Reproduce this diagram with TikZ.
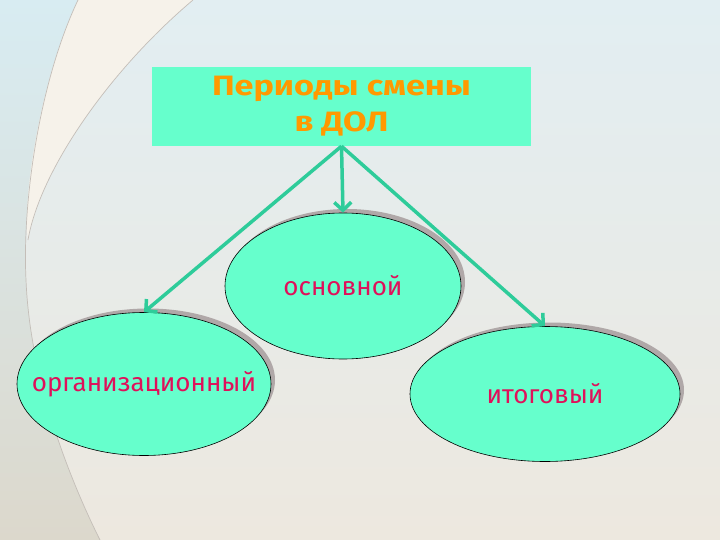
\documentclass[tikz,border=0pt]{standalone}
\usepackage{fontspec}
\setmainfont{Fira Sans}
\newfontfamily\titlefont[FakeStretch=1.22]{Fira Sans}
\usetikzlibrary{shapes.geometric,arrows.meta,shadows}
\definecolor{aqua}{HTML}{66FFCC}
\definecolor{arrowc}{HTML}{2ECC9A}
\definecolor{labc}{HTML}{E0105A}
\definecolor{titc}{HTML}{FF9900}
\definecolor{shad}{HTML}{B0A8A8}
\definecolor{bgtop}{HTML}{E2EEF2}
\definecolor{bgbot}{HTML}{EDE8DF}
\definecolor{bandtop}{HTML}{D8ECF2}
\definecolor{bandmid}{HTML}{A6D0E2}
\definecolor{bandbot}{HTML}{DCD8CC}
\definecolor{cream}{HTML}{F6F2EA}
\definecolor{arcline}{HTML}{C4BEB8}
\newcommand{\zerow}[1]{\makebox[0pt]{#1}}
\begin{document}
\begin{tikzpicture}[x=1pt,y=-1pt,
  oval/.style={ellipse, draw=black, line width=0.6pt, fill=aqua, inner sep=0pt,
    text=labc, font=\fontsize{26}{30}\selectfont,
    drop shadow={shadow xshift=4pt, shadow yshift=4pt, fill=shad, opacity=1}},
  titlebox/.style={rectangle, fill=aqua, inner sep=0pt, align=center,
    text=titc, font=\titlefont\bfseries\fontsize{28}{36}\selectfont},
  conn/.style={draw=arrowc, line width=3.5pt, -{Straight Barb[length=8pt,width=17pt]}}
]
\useasboundingbox (0,0) rectangle (720,540);
% background
\shade[top color=bgtop, middle color=white, bottom color=bgbot] (0,0) rectangle (720,540);
\shade[top color=bandtop, middle color=bandmid, bottom color=bandbot]
  (0,0) -- (78,0) .. controls (40,80) and (22,200) .. (26,280)
  .. controls (30,380) and (70,480) .. (100,540) -- (0,540) -- cycle;
\fill[cream] (78,0) -- (193,0) .. controls (110,70) and (40,170) .. (28,240)
  .. controls (22,200) and (40,80) .. (78,0) -- cycle;
\draw[arcline, line width=0.7pt] (78,0) .. controls (40,80) and (22,200) .. (26,280)
  .. controls (30,380) and (70,480) .. (100,540);
\draw[arcline, line width=0.7pt] (193,0) .. controls (110,70) and (40,170) .. (28,240);
% nodes
\node[titlebox, minimum width=379, minimum height=79] (title) at (341.5,106.5)
  {Периоды смены\\в ДОЛ};
\node[oval, minimum width=236, minimum height=146] (mid) at (343,286) {\zerow{основной}};
\node[oval, minimum width=254, minimum height=143] (left) at (144,384) {\zerow{организационный}};
\node[oval, minimum width=270, minimum height=135] (right) at (545,394) {\zerow{итоговый}};
% connectors
\draw[conn] (title.south) -- (mid.north);
\draw[conn] (title.south) -- (left.north);
\draw[conn] (title.south) -- (right.north);
\end{tikzpicture}
\end{document}
